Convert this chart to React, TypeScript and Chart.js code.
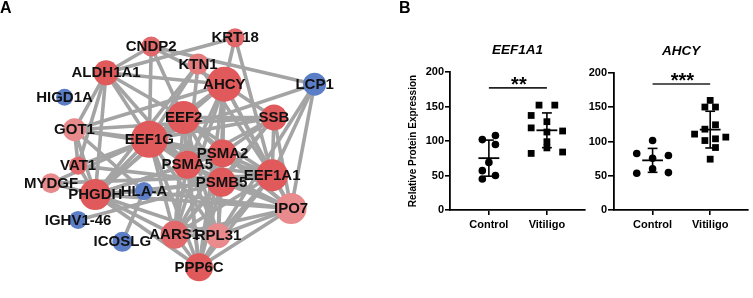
import React, { useEffect, useRef } from "react";
import { Chart, registerables } from "chart.js";

Chart.register(...registerables);

const FONT = '"Liberation Sans", Arial, Helvetica, sans-serif';
Chart.defaults.font.family = FONT;

// ---------- Panel A: network ----------
const nodeNames = [
  "KRT18", "CNDP2", "KTN1", "ALDH1A1", "AHCY", "LCP1", "HIGD1A", "EEF2", "SSB",
  "GOT1", "EEF1G", "PSMA2", "PSMA5", "VAT1", "EEF1A1", "PSMB5", "MYDGF", "PHGDH",
  "HLA-A", "IPO7", "IGHV1-46", "AARS1", "RPL31", "ICOSLG", "PPP6C",
];
const nodeX = [240, 147, 199, 97, 228, 328, 51, 183, 283, 62, 145, 226, 187, 66, 281, 225, 36, 85, 139, 302, 66, 173, 221, 115, 200];
const nodeY = [22, 32, 52, 62, 75, 75, 90, 113, 113, 127, 138, 154, 167, 168, 179, 187, 188, 201, 197, 217, 230, 247, 248, 255, 284];
const nodeSize = [9.5, 10, 10.5, 12.5, 17.5, 11.5, 8.5, 16.5, 13, 11.5, 18.5, 14, 14, 9, 16, 14.5, 10, 15.5, 9, 15.5, 9, 14, 12.5, 10, 14];
// 0 = strong red, 1 = medium red, 2 = light red, 3 = pink, 4 = blue
const nodeGroup = [1, 1, 2, 0, 0, 4, 4, 0, 0, 3, 0, 0, 0, 1, 0, 0, 3, 0, 4, 3, 4, 1, 3, 4, 0];
const edgeList: [string, string][] = [
  ["KRT18", "ALDH1A1"], ["KRT18", "AHCY"], ["KRT18", "EEF1A1"],
  ["CNDP2", "ALDH1A1"], ["CNDP2", "LCP1"], ["CNDP2", "EEF1G"], ["CNDP2", "EEF2"], ["CNDP2", "AHCY"],
  ["KTN1", "EEF1G"], ["KTN1", "PHGDH"], ["KTN1", "EEF1A1"], ["KTN1", "PSMA5"],
  ["ALDH1A1", "AHCY"], ["ALDH1A1", "GOT1"], ["ALDH1A1", "PHGDH"], ["ALDH1A1", "EEF1G"],
  ["ALDH1A1", "PSMA5"], ["ALDH1A1", "VAT1"], ["ALDH1A1", "EEF2"],
  ["LCP1", "EEF1G"], ["LCP1", "IPO7"], ["LCP1", "RPL31"], ["LCP1", "EEF1A1"],
  ["GOT1", "AHCY"], ["GOT1", "EEF1G"], ["GOT1", "SSB"], ["GOT1", "PHGDH"], ["GOT1", "PSMA2"],
  ["GOT1", "VAT1"], ["GOT1", "HLA-A"],
  ["VAT1", "EEF1G"], ["VAT1", "PSMB5"], ["VAT1", "PHGDH"],
  ["MYDGF", "PHGDH"], ["MYDGF", "EEF1A1"], ["MYDGF", "EEF1G"],
  ["PHGDH", "EEF1G"], ["PHGDH", "EEF2"], ["PHGDH", "PSMA5"], ["PHGDH", "PSMA2"], ["PHGDH", "PSMB5"],
  ["PHGDH", "IPO7"], ["PHGDH", "AARS1"], ["PHGDH", "RPL31"], ["PHGDH", "PPP6C"], ["PHGDH", "AHCY"],
  ["PHGDH", "HLA-A"],
  ["HLA-A", "IPO7"], ["HLA-A", "ICOSLG"], ["HLA-A", "PSMB5"], ["IGHV1-46", "PSMB5"],
  ["EEF2", "EEF1G"], ["EEF2", "AHCY"], ["EEF2", "SSB"], ["EEF2", "PSMA2"], ["EEF2", "PSMA5"],
  ["EEF2", "PSMB5"], ["EEF2", "EEF1A1"], ["EEF2", "IPO7"], ["EEF2", "AARS1"], ["EEF2", "RPL31"],
  ["EEF2", "PPP6C"],
  ["EEF1G", "AHCY"], ["EEF1G", "SSB"], ["EEF1G", "PSMA2"], ["EEF1G", "PSMA5"], ["EEF1G", "PSMB5"],
  ["EEF1G", "EEF1A1"], ["EEF1G", "IPO7"], ["EEF1G", "AARS1"], ["EEF1G", "RPL31"], ["EEF1G", "PPP6C"],
  ["AHCY", "SSB"], ["AHCY", "PSMA2"], ["AHCY", "PSMA5"], ["AHCY", "PSMB5"], ["AHCY", "EEF1A1"],
  ["AHCY", "IPO7"], ["AHCY", "AARS1"], ["AHCY", "RPL31"], ["AHCY", "PPP6C"],
  ["SSB", "PSMA2"], ["SSB", "PSMA5"], ["SSB", "EEF1A1"], ["SSB", "IPO7"], ["SSB", "PSMB5"], ["SSB", "AARS1"],
  ["PSMA2", "PSMA5"], ["PSMA2", "PSMB5"], ["PSMA2", "EEF1A1"], ["PSMA2", "IPO7"], ["PSMA2", "AARS1"],
  ["PSMA2", "RPL31"], ["PSMA2", "PPP6C"],
  ["PSMA5", "PSMB5"], ["PSMA5", "EEF1A1"], ["PSMA5", "IPO7"], ["PSMA5", "AARS1"], ["PSMA5", "RPL31"],
  ["PSMA5", "PPP6C"],
  ["PSMB5", "EEF1A1"], ["PSMB5", "IPO7"], ["PSMB5", "AARS1"], ["PSMB5", "RPL31"], ["PSMB5", "PPP6C"],
  ["EEF1A1", "IPO7"], ["EEF1A1", "AARS1"], ["EEF1A1", "RPL31"], ["EEF1A1", "PPP6C"],
  ["IPO7", "AARS1"], ["IPO7", "RPL31"], ["IPO7", "PPP6C"],
  ["AARS1", "RPL31"], ["AARS1", "PPP6C"], ["RPL31", "PPP6C"],
];

// ---------- Panel B: dot plots ----------
const groupNames = ["Control", "Vitiligo"];
const yTickValues = [0, 50, 100, 150, 200];
const eef1a1Control = [108, 102, 95, 69, 57, 45, 50];
const eef1a1ControlJitter = [0.113, -0.113, 0.113, 0, -0.113, -0.113, 0.113];
const eef1a1Vitiligo = [152, 152, 137, 128, 119, 113, 114.5, 99, 90, 82, 84];
const eef1a1VitiligoJitter = [-0.136, 0.136, -0.271, 0, -0.271, 0, 0.271, 0, 0, -0.271, 0.271];
const ahcyControl = [101.5, 82.4, 79.5, 75.6, 60, 53.7, 54.6];
const ahcyControlJitter = [0, -0.275, 0.275, 0, 0, -0.275, 0.275];
const ahcyVitiligo = [160, 150.3, 150.3, 124.4, 118, 110.8, 106.4, 101.4, 103.9, 91.2, 74.2];
const ahcyVitiligoJitter = [0, -0.092, 0.092, 0.092, -0.092, -0.271, 0.271, -0.092, 0.092, 0.092, 0];
const sigLevels = [177, 184];
const sigLabels = ["**", "***"];

const NODE_COLORS = ["#e05a5c", "#e1696b", "#e47c7e", "#e98b8d", "#5b7ec6"];
const EDGE_COLOR = "#a4a4a4";

function NetworkChart() {
  const ref = useRef<HTMLCanvasElement>(null);
  useEffect(() => {
    const idx = (n: string) => nodeNames.indexOf(n);
    const edgeSets = edgeList.map(([a, b]) => ({
      data: [
        { x: nodeX[idx(a)], y: nodeY[idx(a)] },
        { x: nodeX[idx(b)], y: nodeY[idx(b)] },
      ],
      showLine: true,
      borderColor: EDGE_COLOR,
      borderWidth: 3.6,
      pointRadius: 0,
      order: 2,
      clip: false as any,
    }));
    const nodeSet = {
      data: nodeNames.map((_, i) => ({ x: nodeX[i], y: nodeY[i] })),
      pointRadius: nodeSize,
      pointBackgroundColor: nodeGroup.map((g) => NODE_COLORS[g]),
      pointBorderWidth: 0,
      order: 1,
      clip: false as any,
    };
    const labelPlugin = {
      id: "nodeLabels",
      afterDatasetsDraw(chart: any) {
        const { ctx, scales } = chart;
        ctx.save();
        ctx.font = `bold 15px ${FONT}`;
        ctx.fillStyle = "#111";
        ctx.textAlign = "center";
        ctx.textBaseline = "middle";
        nodeNames.forEach((n, i) => {
          ctx.fillText(n, scales.x.getPixelForValue(nodeX[i]), scales.y.getPixelForValue(nodeY[i]) + 0.5);
        });
        ctx.restore();
      },
    };
    const chart = new Chart(ref.current!, {
      type: "scatter",
      data: { datasets: [...edgeSets, nodeSet] as any },
      options: {
        responsive: false,
        animation: false,
        events: [],
        layout: { padding: 0 },
        plugins: { legend: { display: false }, tooltip: { enabled: false } },
        scales: {
          x: { type: "linear", display: false, min: 0, max: 380 },
          y: { type: "linear", display: false, min: 0, max: 298, reverse: true },
        },
      },
      plugins: [labelPlugin],
    });
    return () => chart.destroy();
  }, []);
  return <canvas ref={ref} width={380} height={298} style={{ position: "absolute", left: 0, top: 0 }} />;
}

const mean = (a: number[]) => a.reduce((s, v) => s + v, 0) / a.length;
const sd = (a: number[]) => {
  const m = mean(a);
  return Math.sqrt(a.reduce((s, v) => s + (v - m) * (v - m), 0) / (a.length - 1));
};

type DotProps = {
  title: string;
  control: number[];
  controlJitter: number[];
  vitiligo: number[];
  vitiligoJitter: number[];
  sigY: number;
  sigText: string;
  left: number;
  width: number;
  axisWidth: number;
  padTop: number;
  padRight: number;
  tickLen: number;
  yTitle?: string;
};

function lineSet(pts: { x: number; y: number }[], w = 1.6, color = "#000") {
  return { data: pts, showLine: true, borderColor: color, borderWidth: w, pointRadius: 0, order: 0, clip: false as any };
}

function DotPlot(p: DotProps) {
  const ref = useRef<HTMLCanvasElement>(null);
  useEffect(() => {
    const groups = [
      { vals: p.control, jit: p.controlJitter, cx: 1, style: "circle", r: 3.8 },
      { vals: p.vitiligo, jit: p.vitiligoJitter, cx: 2, style: "rect", r: 4.8 },
    ];
    const datasets: any[] = [];
    groups.forEach((g) => {
      datasets.push({
        data: g.vals.map((v, i) => ({ x: g.cx + g.jit[i], y: v })),
        pointStyle: g.style,
        pointRadius: g.r,
        pointBackgroundColor: "#000",
        pointBorderWidth: 0,
        order: 1,
        clip: false,
      });
      const m = mean(g.vals);
      const s = sd(g.vals);
      const capW = 0.085;
      const meanW = 0.18;
      datasets.push(lineSet([{ x: g.cx, y: m - s }, { x: g.cx, y: m + s }]));
      datasets.push(lineSet([{ x: g.cx - capW, y: m + s }, { x: g.cx + capW, y: m + s }]));
      datasets.push(lineSet([{ x: g.cx - capW, y: m - s }, { x: g.cx + capW, y: m - s }]));
      datasets.push(lineSet([{ x: g.cx - meanW, y: m }, { x: g.cx + meanW, y: m }], 1.8));
    });
    datasets.push(lineSet([{ x: 1, y: p.sigY }, { x: 2, y: p.sigY }], 1.6, "#222"));

    const textPlugin = {
      id: "dotText",
      afterDatasetsDraw(chart: any) {
        const { ctx, chartArea, scales } = chart;
        ctx.save();
        ctx.fillStyle = "#000";
        ctx.textAlign = "center";
        ctx.textBaseline = "middle";
        ctx.font = `italic bold 13.5px ${FONT}`;
        ctx.fillText(p.title, (chartArea.left + chartArea.right) / 2, chartArea.top - 22);
        ctx.font = `bold 20px ${FONT}`;
        ctx.textBaseline = "alphabetic";
        const sx = (scales.x.getPixelForValue(1) + scales.x.getPixelForValue(2)) / 2 + 1;
        ctx.fillText(p.sigText, sx, scales.y.getPixelForValue(p.sigY) + 3);
        ctx.restore();
      },
    };

    const chart = new Chart(ref.current!, {
      type: "scatter",
      data: { datasets },
      options: {
        responsive: false,
        animation: false,
        events: [],
        layout: { padding: { top: p.padTop, right: p.padRight, left: 0, bottom: 0 } },
        plugins: { legend: { display: false }, tooltip: { enabled: false } },
        scales: {
          x: {
            type: "linear",
            min: 0.33,
            max: 2.66,
            afterBuildTicks: (axis: any) => {
              axis.ticks = [1, 2].map((v) => ({ value: v }));
            },
            afterFit: (scale: any) => {
              scale.height = 88;
            },
            ticks: {
              callback: (v: any) => (v === 1 ? groupNames[0] : v === 2 ? groupNames[1] : ""),
              font: { size: 11, weight: "bold" },
              color: "#000",
              padding: 3,
              maxRotation: 0,
              autoSkip: false,
            },
            grid: { drawOnChartArea: false, drawTicks: true, tickLength: 5, color: "#000", lineWidth: 1.6 },
            border: { display: true, color: "#000", width: 1.8 },
          },
          y: {
            type: "linear",
            min: yTickValues[0],
            max: yTickValues[yTickValues.length - 1],
            afterBuildTicks: (axis: any) => {
              axis.ticks = yTickValues.map((v) => ({ value: v }));
            },
            afterFit: (scale: any) => {
              scale.width = p.axisWidth;
            },
            ticks: { font: { size: 11, weight: "bold" }, color: "#000", padding: 1 },
            grid: { drawOnChartArea: false, drawTicks: true, tickLength: p.tickLen, color: "#000", lineWidth: 1.6 },
            border: { display: true, color: "#000", width: 1.8 },
            title: p.yTitle
              ? { display: true, text: p.yTitle, font: { size: 10, weight: "bold" }, color: "#000", padding: { top: 7, bottom: 0 } }
              : { display: false },
          },
        },
      },
      plugins: [textPlugin],
    });
    return () => chart.destroy();
  }, []);
  return (
    <canvas ref={ref} width={p.width} height={298} style={{ position: "absolute", left: p.left, top: 0 }} />
  );
}

const panelLabel: React.CSSProperties = {
  position: "absolute",
  top: 0,
  font: `bold 16px ${FONT}`,
  lineHeight: "16px",
  color: "#000",
};

export default function App() {
  return (
    <div style={{ position: "fixed", left: 0, top: 0, width: 753, height: 298, background: "#fff", overflow: "hidden" }}>
      <NetworkChart />
      <DotPlot
        title="EEF1A1"
        control={eef1a1Control}
        controlJitter={eef1a1ControlJitter}
        vitiligo={eef1a1Vitiligo}
        vitiligoJitter={eef1a1VitiligoJitter}
        sigY={sigLevels[0]}
        sigText={sigLabels[0]}
        left={400}
        width={190}
        axisWidth={50}
        padTop={72}
        padRight={3}
        tickLen={5}
        yTitle="Relative Protein Expression"
      />
      <DotPlot
        title="AHCY"
        control={ahcyControl}
        controlJitter={ahcyControlJitter}
        vitiligo={ahcyVitiligo}
        vitiligoJitter={ahcyVitiligoJitter}
        sigY={sigLevels[1]}
        sigText={sigLabels[1]}
        left={585}
        width={168}
        axisWidth={29}
        padTop={73}
        padRight={1}
        tickLen={6}
      />
      <div style={{ ...panelLabel, left: 0 }}>A</div>
      <div style={{ ...panelLabel, left: 399 }}>B</div>
    </div>
  );
}
